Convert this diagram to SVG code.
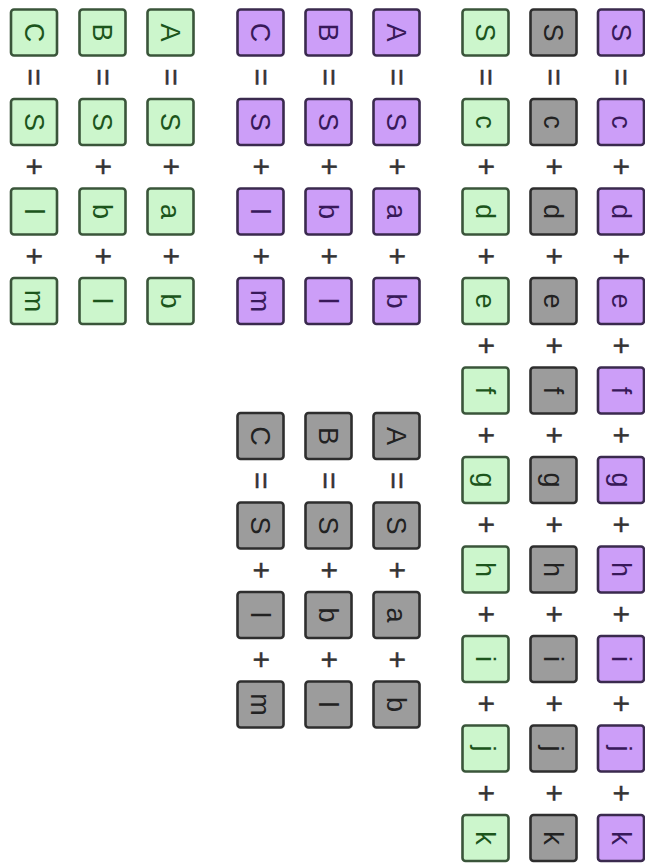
<svg xmlns="http://www.w3.org/2000/svg" width="645" height="866" viewBox="0 0 645 866">
<style>
rect{stroke-width:2.6}
text{font-family:"Liberation Sans",Arial,sans-serif;text-anchor:middle}
.n text{font-size:27px}
.gr rect{fill:#ccf6cc;stroke:#3a553a}
.gr text{fill:#1c551c}
.pu rect{fill:#cc9ef8;stroke:#3a2a4e}
.pu text{fill:#38195a}
.gy rect{fill:#9c9c9c;stroke:#2e2e2e}
.gy text{fill:#222}
.op text{font-size:30px;fill:#333;stroke:#333;stroke-width:0.5}
</style>
<rect x="0" y="0" width="645" height="866" fill="#fff" stroke="none"/>
<!-- green group -->
<g id="gA0" class="n gr" transform="translate(170.5 32.5) rotate(90)"><rect x="-23" y="-23" width="46" height="46" rx="3"/><text y="9.5">A</text></g>
<g id="gA1" class="n gr" transform="translate(170.5 122) rotate(90)"><rect x="-23" y="-23" width="46" height="46" rx="3"/><text y="9.5">S</text></g>
<g id="gA2" class="n gr" transform="translate(170.5 211.5) rotate(90)"><rect x="-23" y="-23" width="46" height="46" rx="3"/><text y="9.5">a</text></g>
<g id="gA3" class="n gr" transform="translate(170.5 301) rotate(90)"><rect x="-23" y="-23" width="46" height="46" rx="3"/><text y="9.5">b</text></g>
<g id="gB0" class="n gr" transform="translate(102.5 32.5) rotate(90)"><rect x="-23" y="-23" width="46" height="46" rx="3"/><text y="9.5">B</text></g>
<g id="gB1" class="n gr" transform="translate(102.5 122) rotate(90)"><rect x="-23" y="-23" width="46" height="46" rx="3"/><text y="9.5">S</text></g>
<g id="gB2" class="n gr" transform="translate(102.5 211.5) rotate(90)"><rect x="-23" y="-23" width="46" height="46" rx="3"/><text y="9.5">b</text></g>
<g id="gB3" class="n gr" transform="translate(102.5 301) rotate(90)"><rect x="-23" y="-23" width="46" height="46" rx="3"/><text y="9.5">l</text></g>
<g id="gC0" class="n gr" transform="translate(34 32.5) rotate(90)"><rect x="-23" y="-23" width="46" height="46" rx="3"/><text y="9.5">C</text></g>
<g id="gC1" class="n gr" transform="translate(34 122) rotate(90)"><rect x="-23" y="-23" width="46" height="46" rx="3"/><text y="9.5">S</text></g>
<g id="gC2" class="n gr" transform="translate(34 211.5) rotate(90)"><rect x="-23" y="-23" width="46" height="46" rx="3"/><text y="9.5">l</text></g>
<g id="gC3" class="n gr" transform="translate(34 301) rotate(90)"><rect x="-23" y="-23" width="46" height="46" rx="3"/><text y="9.5">m</text></g>
<!-- purple group -->
<g id="pA0" class="n pu" transform="translate(396.5 32.5) rotate(90)"><rect x="-23" y="-23" width="46" height="46" rx="3"/><text y="9.5">A</text></g>
<g id="pA1" class="n pu" transform="translate(396.5 122) rotate(90)"><rect x="-23" y="-23" width="46" height="46" rx="3"/><text y="9.5">S</text></g>
<g id="pA2" class="n pu" transform="translate(396.5 211.5) rotate(90)"><rect x="-23" y="-23" width="46" height="46" rx="3"/><text y="9.5">a</text></g>
<g id="pA3" class="n pu" transform="translate(396.5 301) rotate(90)"><rect x="-23" y="-23" width="46" height="46" rx="3"/><text y="9.5">b</text></g>
<g id="pB0" class="n pu" transform="translate(328.5 32.5) rotate(90)"><rect x="-23" y="-23" width="46" height="46" rx="3"/><text y="9.5">B</text></g>
<g id="pB1" class="n pu" transform="translate(328.5 122) rotate(90)"><rect x="-23" y="-23" width="46" height="46" rx="3"/><text y="9.5">S</text></g>
<g id="pB2" class="n pu" transform="translate(328.5 211.5) rotate(90)"><rect x="-23" y="-23" width="46" height="46" rx="3"/><text y="9.5">b</text></g>
<g id="pB3" class="n pu" transform="translate(328.5 301) rotate(90)"><rect x="-23" y="-23" width="46" height="46" rx="3"/><text y="9.5">l</text></g>
<g id="pC0" class="n pu" transform="translate(260.5 32.5) rotate(90)"><rect x="-23" y="-23" width="46" height="46" rx="3"/><text y="9.5">C</text></g>
<g id="pC1" class="n pu" transform="translate(260.5 122) rotate(90)"><rect x="-23" y="-23" width="46" height="46" rx="3"/><text y="9.5">S</text></g>
<g id="pC2" class="n pu" transform="translate(260.5 211.5) rotate(90)"><rect x="-23" y="-23" width="46" height="46" rx="3"/><text y="9.5">l</text></g>
<g id="pC3" class="n pu" transform="translate(260.5 301) rotate(90)"><rect x="-23" y="-23" width="46" height="46" rx="3"/><text y="9.5">m</text></g>
<!-- gray group -->
<g id="yA0" class="n gy" transform="translate(396.5 436) rotate(90)"><rect x="-23" y="-23" width="46" height="46" rx="3"/><text y="9.5">A</text></g>
<g id="yA1" class="n gy" transform="translate(396.5 525.5) rotate(90)"><rect x="-23" y="-23" width="46" height="46" rx="3"/><text y="9.5">S</text></g>
<g id="yA2" class="n gy" transform="translate(396.5 615) rotate(90)"><rect x="-23" y="-23" width="46" height="46" rx="3"/><text y="9.5">a</text></g>
<g id="yA3" class="n gy" transform="translate(396.5 704.5) rotate(90)"><rect x="-23" y="-23" width="46" height="46" rx="3"/><text y="9.5">b</text></g>
<g id="yB0" class="n gy" transform="translate(328.5 436) rotate(90)"><rect x="-23" y="-23" width="46" height="46" rx="3"/><text y="9.5">B</text></g>
<g id="yB1" class="n gy" transform="translate(328.5 525.5) rotate(90)"><rect x="-23" y="-23" width="46" height="46" rx="3"/><text y="9.5">S</text></g>
<g id="yB2" class="n gy" transform="translate(328.5 615) rotate(90)"><rect x="-23" y="-23" width="46" height="46" rx="3"/><text y="9.5">b</text></g>
<g id="yB3" class="n gy" transform="translate(328.5 704.5) rotate(90)"><rect x="-23" y="-23" width="46" height="46" rx="3"/><text y="9.5">l</text></g>
<g id="yC0" class="n gy" transform="translate(260.5 436) rotate(90)"><rect x="-23" y="-23" width="46" height="46" rx="3"/><text y="9.5">C</text></g>
<g id="yC1" class="n gy" transform="translate(260.5 525.5) rotate(90)"><rect x="-23" y="-23" width="46" height="46" rx="3"/><text y="9.5">S</text></g>
<g id="yC2" class="n gy" transform="translate(260.5 615) rotate(90)"><rect x="-23" y="-23" width="46" height="46" rx="3"/><text y="9.5">l</text></g>
<g id="yC3" class="n gy" transform="translate(260.5 704.5) rotate(90)"><rect x="-23" y="-23" width="46" height="46" rx="3"/><text y="9.5">m</text></g>
<!-- S rows: purple (x=621), gray (553.5), green (485.5) -->
<g id="sP0" class="n pu" transform="translate(621 32.5) rotate(90)"><rect x="-23" y="-23" width="46" height="46" rx="3"/><text y="9.5">S</text></g>
<g id="sP1" class="n pu" transform="translate(621 122) rotate(90)"><rect x="-23" y="-23" width="46" height="46" rx="3"/><text y="9.5">c</text></g>
<g id="sP2" class="n pu" transform="translate(621 211.5) rotate(90)"><rect x="-23" y="-23" width="46" height="46" rx="3"/><text y="9.5">d</text></g>
<g id="sP3" class="n pu" transform="translate(621 301) rotate(90)"><rect x="-23" y="-23" width="46" height="46" rx="3"/><text y="9.5">e</text></g>
<g id="sP4" class="n pu" transform="translate(621 390.5) rotate(90)"><rect x="-23" y="-23" width="46" height="46" rx="3"/><text y="9.5">f</text></g>
<g id="sP5" class="n pu" transform="translate(621 480) rotate(90)"><rect x="-23" y="-23" width="46" height="46" rx="3"/><text y="9.5">g</text></g>
<g id="sP6" class="n pu" transform="translate(621 569.5) rotate(90)"><rect x="-23" y="-23" width="46" height="46" rx="3"/><text y="9.5">h</text></g>
<g id="sP7" class="n pu" transform="translate(621 659) rotate(90)"><rect x="-23" y="-23" width="46" height="46" rx="3"/><text y="9.5">i</text></g>
<g id="sP8" class="n pu" transform="translate(621 748.5) rotate(90)"><rect x="-23" y="-23" width="46" height="46" rx="3"/><text y="9.5">j</text></g>
<g id="sP9" class="n pu" transform="translate(621 838) rotate(90)"><rect x="-23" y="-23" width="46" height="46" rx="3"/><text y="9.5">k</text></g>
<g id="sY0" class="n gy" transform="translate(553.5 32.5) rotate(90)"><rect x="-23" y="-23" width="46" height="46" rx="3"/><text y="9.5">S</text></g>
<g id="sY1" class="n gy" transform="translate(553.5 122) rotate(90)"><rect x="-23" y="-23" width="46" height="46" rx="3"/><text y="9.5">c</text></g>
<g id="sY2" class="n gy" transform="translate(553.5 211.5) rotate(90)"><rect x="-23" y="-23" width="46" height="46" rx="3"/><text y="9.5">d</text></g>
<g id="sY3" class="n gy" transform="translate(553.5 301) rotate(90)"><rect x="-23" y="-23" width="46" height="46" rx="3"/><text y="9.5">e</text></g>
<g id="sY4" class="n gy" transform="translate(553.5 390.5) rotate(90)"><rect x="-23" y="-23" width="46" height="46" rx="3"/><text y="9.5">f</text></g>
<g id="sY5" class="n gy" transform="translate(553.5 480) rotate(90)"><rect x="-23" y="-23" width="46" height="46" rx="3"/><text y="9.5">g</text></g>
<g id="sY6" class="n gy" transform="translate(553.5 569.5) rotate(90)"><rect x="-23" y="-23" width="46" height="46" rx="3"/><text y="9.5">h</text></g>
<g id="sY7" class="n gy" transform="translate(553.5 659) rotate(90)"><rect x="-23" y="-23" width="46" height="46" rx="3"/><text y="9.5">i</text></g>
<g id="sY8" class="n gy" transform="translate(553.5 748.5) rotate(90)"><rect x="-23" y="-23" width="46" height="46" rx="3"/><text y="9.5">j</text></g>
<g id="sY9" class="n gy" transform="translate(553.5 838) rotate(90)"><rect x="-23" y="-23" width="46" height="46" rx="3"/><text y="9.5">k</text></g>
<g id="sG0" class="n gr" transform="translate(485.5 32.5) rotate(90)"><rect x="-23" y="-23" width="46" height="46" rx="3"/><text y="9.5">S</text></g>
<g id="sG1" class="n gr" transform="translate(485.5 122) rotate(90)"><rect x="-23" y="-23" width="46" height="46" rx="3"/><text y="9.5">c</text></g>
<g id="sG2" class="n gr" transform="translate(485.5 211.5) rotate(90)"><rect x="-23" y="-23" width="46" height="46" rx="3"/><text y="9.5">d</text></g>
<g id="sG3" class="n gr" transform="translate(485.5 301) rotate(90)"><rect x="-23" y="-23" width="46" height="46" rx="3"/><text y="9.5">e</text></g>
<g id="sG4" class="n gr" transform="translate(485.5 390.5) rotate(90)"><rect x="-23" y="-23" width="46" height="46" rx="3"/><text y="9.5">f</text></g>
<g id="sG5" class="n gr" transform="translate(485.5 480) rotate(90)"><rect x="-23" y="-23" width="46" height="46" rx="3"/><text y="9.5">g</text></g>
<g id="sG6" class="n gr" transform="translate(485.5 569.5) rotate(90)"><rect x="-23" y="-23" width="46" height="46" rx="3"/><text y="9.5">h</text></g>
<g id="sG7" class="n gr" transform="translate(485.5 659) rotate(90)"><rect x="-23" y="-23" width="46" height="46" rx="3"/><text y="9.5">i</text></g>
<g id="sG8" class="n gr" transform="translate(485.5 748.5) rotate(90)"><rect x="-23" y="-23" width="46" height="46" rx="3"/><text y="9.5">j</text></g>
<g id="sG9" class="n gr" transform="translate(485.5 838) rotate(90)"><rect x="-23" y="-23" width="46" height="46" rx="3"/><text y="9.5">k</text></g>
<!-- operators -->
<g id="operators" class="op">
<text transform="translate(34 77.25) rotate(90)" y="10">=</text>
<text transform="translate(102.5 77.25) rotate(90)" y="10">=</text>
<text transform="translate(170.5 77.25) rotate(90)" y="10">=</text>
<text transform="translate(260.5 77.25) rotate(90)" y="10">=</text>
<text transform="translate(328.5 77.25) rotate(90)" y="10">=</text>
<text transform="translate(396.5 77.25) rotate(90)" y="10">=</text>
<text transform="translate(485.5 77.25) rotate(90)" y="10">=</text>
<text transform="translate(553.5 77.25) rotate(90)" y="10">=</text>
<text transform="translate(621 77.25) rotate(90)" y="10">=</text>
<text transform="translate(260.5 480.75) rotate(90)" y="10">=</text>
<text transform="translate(328.5 480.75) rotate(90)" y="10">=</text>
<text transform="translate(396.5 480.75) rotate(90)" y="10">=</text>
<text transform="translate(34 166.75) rotate(90)" y="10">+</text>
<text transform="translate(102.5 166.75) rotate(90)" y="10">+</text>
<text transform="translate(170.5 166.75) rotate(90)" y="10">+</text>
<text transform="translate(34 256.25) rotate(90)" y="10">+</text>
<text transform="translate(102.5 256.25) rotate(90)" y="10">+</text>
<text transform="translate(170.5 256.25) rotate(90)" y="10">+</text>
<text transform="translate(260.5 166.75) rotate(90)" y="10">+</text>
<text transform="translate(328.5 166.75) rotate(90)" y="10">+</text>
<text transform="translate(396.5 166.75) rotate(90)" y="10">+</text>
<text transform="translate(260.5 256.25) rotate(90)" y="10">+</text>
<text transform="translate(328.5 256.25) rotate(90)" y="10">+</text>
<text transform="translate(396.5 256.25) rotate(90)" y="10">+</text>
<text transform="translate(260.5 570.25) rotate(90)" y="10">+</text>
<text transform="translate(328.5 570.25) rotate(90)" y="10">+</text>
<text transform="translate(396.5 570.25) rotate(90)" y="10">+</text>
<text transform="translate(260.5 659.75) rotate(90)" y="10">+</text>
<text transform="translate(328.5 659.75) rotate(90)" y="10">+</text>
<text transform="translate(396.5 659.75) rotate(90)" y="10">+</text>
<text transform="translate(485.5 166.75) rotate(90)" y="10">+</text>
<text transform="translate(553.5 166.75) rotate(90)" y="10">+</text>
<text transform="translate(621 166.75) rotate(90)" y="10">+</text>
<text transform="translate(485.5 256.25) rotate(90)" y="10">+</text>
<text transform="translate(553.5 256.25) rotate(90)" y="10">+</text>
<text transform="translate(621 256.25) rotate(90)" y="10">+</text>
<text transform="translate(485.5 345.75) rotate(90)" y="10">+</text>
<text transform="translate(553.5 345.75) rotate(90)" y="10">+</text>
<text transform="translate(621 345.75) rotate(90)" y="10">+</text>
<text transform="translate(485.5 435.25) rotate(90)" y="10">+</text>
<text transform="translate(553.5 435.25) rotate(90)" y="10">+</text>
<text transform="translate(621 435.25) rotate(90)" y="10">+</text>
<text transform="translate(485.5 524.75) rotate(90)" y="10">+</text>
<text transform="translate(553.5 524.75) rotate(90)" y="10">+</text>
<text transform="translate(621 524.75) rotate(90)" y="10">+</text>
<text transform="translate(485.5 614.25) rotate(90)" y="10">+</text>
<text transform="translate(553.5 614.25) rotate(90)" y="10">+</text>
<text transform="translate(621 614.25) rotate(90)" y="10">+</text>
<text transform="translate(485.5 703.75) rotate(90)" y="10">+</text>
<text transform="translate(553.5 703.75) rotate(90)" y="10">+</text>
<text transform="translate(621 703.75) rotate(90)" y="10">+</text>
<text transform="translate(485.5 793.25) rotate(90)" y="10">+</text>
<text transform="translate(553.5 793.25) rotate(90)" y="10">+</text>
<text transform="translate(621 793.25) rotate(90)" y="10">+</text>
</g>
</svg>
